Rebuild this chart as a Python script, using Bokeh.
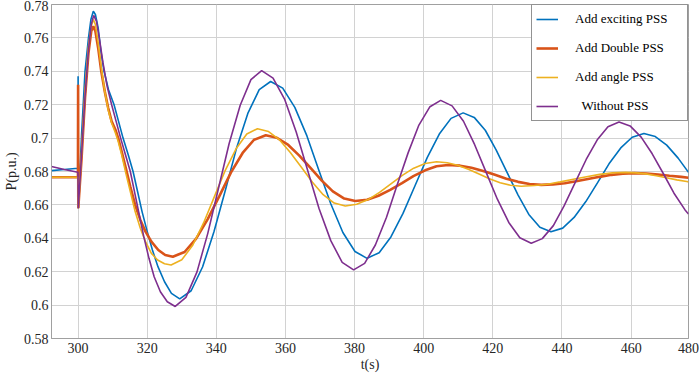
from bokeh.plotting import figure
from bokeh.models import Range1d, FixedTicker, Legend, LegendItem, CustomJSTickFormatter
from bokeh.embed import file_html
from bokeh.resources import INLINE

# ---- data (time s, power p.u.) ----
X_START, X_END = 292.3, 476.6
X_TICKS = [300, 320, 340, 360, 380, 400, 420, 440, 460, 480]
X_TICK_LABELS = ["300", "320", "340", "360", "380", "400", "420", "440", "460", "480"]
Y_TICKS = [0.58, 0.6, 0.62, 0.64, 0.66, 0.68, 0.7, 0.72, 0.74, 0.76, 0.78]
Y_TICK_LABELS = ["0.58", "0.6", "0.62", "0.64", "0.66", "0.68", "0.7", "0.72", "0.74", "0.76", "0.78"]

SERIES_NAMES = ["Add exciting PSS", "Add Double PSS", "Add angle PSS", "\u00a0\u00a0Without PSS"]

EXCITING = [
    (292.3, 0.6805), (296.0, 0.6812), (299.95, 0.6819), (300.0, 0.737), (300.05, 0.658),
    (301.0, 0.702), (302.0, 0.740), (303.0, 0.760), (303.7, 0.771), (304.4, 0.776),
    (305.0, 0.774), (305.8, 0.766), (306.6, 0.752), (307.5, 0.740), (308.8, 0.729),
    (310.4, 0.720), (311.7, 0.710), (313.0, 0.700), (314.5, 0.690), (315.9, 0.680),
    (317.2, 0.668), (318.5, 0.656), (320.0, 0.644), (321.5, 0.633), (323.1, 0.623),
    (325.0, 0.614), (327.0, 0.607), (329.4, 0.6037), (332.7, 0.6086), (336.0, 0.6228),
    (339.3, 0.6439), (342.6, 0.6688), (345.8, 0.6937), (349.1, 0.7148), (352.4, 0.7290),
    (355.7, 0.7339), (359.2, 0.7299), (362.7, 0.7184), (366.2, 0.7013), (369.6, 0.6810),
    (373.1, 0.6607), (376.6, 0.6435), (380.1, 0.6321), (383.6, 0.6280), (387.1, 0.6314),
    (390.5, 0.6408), (394.0, 0.6549), (397.5, 0.6716), (401.0, 0.6883), (404.5, 0.7024),
    (407.9, 0.7118), (411.4, 0.7151), (414.6, 0.7124), (417.8, 0.7047), (420.9, 0.6931),
    (424.1, 0.6795), (427.3, 0.6659), (430.4, 0.6543), (433.6, 0.6466), (436.8, 0.6439),
    (440.2, 0.6461), (443.5, 0.6525), (446.9, 0.6620), (450.3, 0.6733), (453.6, 0.6846),
    (457.0, 0.6941), (460.3, 0.7005), (463.7, 0.7027), (467.0, 0.7009), (470.3, 0.6958),
    (473.6, 0.6880), (476.6, 0.6795),
]

DOUBLE = [
    (292.3, 0.6766), (299.95, 0.6766), (300.0, 0.732), (300.05, 0.658), (301.0, 0.688),
    (302.0, 0.724), (303.0, 0.751), (303.8, 0.764), (304.4, 0.767), (305.0, 0.764),
    (305.8, 0.754), (306.7, 0.740), (307.7, 0.728), (308.7, 0.718), (309.7, 0.710),
    (310.8, 0.705), (311.6, 0.700), (312.6, 0.692), (313.8, 0.682), (315.1, 0.671),
    (316.5, 0.660), (318.0, 0.651), (319.5, 0.644), (321.2, 0.638), (323.2, 0.633),
    (325.2, 0.630), (327.4, 0.629), (330.8, 0.6318), (334.1, 0.6397), (337.5, 0.6515),
    (340.9, 0.6654), (344.2, 0.6793), (347.6, 0.6911), (350.9, 0.6990), (354.3, 0.7017),
    (357.5, 0.7002), (360.8, 0.6959), (364.0, 0.6895), (367.3, 0.6820), (370.5, 0.6745),
    (373.7, 0.6681), (377.0, 0.6638), (380.2, 0.6623), (383.6, 0.6631), (386.9, 0.6655),
    (390.3, 0.6690), (393.7, 0.6731), (397.0, 0.6772), (400.4, 0.6807), (403.7, 0.6831),
    (407.1, 0.6839), (410.5, 0.6835), (413.8, 0.6822), (417.2, 0.6803), (420.6, 0.6780),
    (423.9, 0.6757), (427.3, 0.6738), (430.6, 0.6725), (434.0, 0.6720), (437.4, 0.6723),
    (440.8, 0.6730), (444.1, 0.6742), (447.5, 0.6755), (450.9, 0.6768), (454.3, 0.6780),
    (457.6, 0.6787), (461.0, 0.6790), (464.4, 0.6788), (467.8, 0.6782), (471.1, 0.6775),
    (474.5, 0.6768), (476.6, 0.6763),
]

ANGLE = [
    (292.3, 0.6766), (299.95, 0.6766), (300.05, 0.658), (301.0, 0.690), (302.0, 0.727),
    (303.0, 0.755), (303.8, 0.767), (304.4, 0.771), (305.0, 0.768), (305.8, 0.757),
    (306.7, 0.742), (307.7, 0.728), (308.7, 0.717), (309.7, 0.709), (310.8, 0.703),
    (311.6, 0.698), (312.6, 0.690), (313.8, 0.679), (315.1, 0.668), (316.5, 0.656),
    (318.0, 0.646), (319.5, 0.638), (321.2, 0.631), (323.0, 0.627), (325.0, 0.6248),
    (326.9, 0.624), (330.0, 0.6271), (333.2, 0.6360), (336.3, 0.6492), (339.4, 0.6648),
    (342.5, 0.6804), (345.7, 0.6936), (348.8, 0.7025), (351.9, 0.7056), (355.1, 0.7039),
    (358.3, 0.6989), (361.4, 0.6914), (364.6, 0.6825), (367.8, 0.6736), (370.9, 0.6661),
    (374.1, 0.6611), (377.3, 0.6593), (380.6, 0.6604), (383.9, 0.6632), (387.2, 0.6675),
    (390.5, 0.6726), (393.8, 0.6777), (397.1, 0.6820), (400.4, 0.6848), (403.7, 0.6858),
    (406.8, 0.6852), (409.8, 0.6837), (412.9, 0.6813), (416.0, 0.6785), (419.0, 0.6757),
    (422.1, 0.6733), (425.1, 0.6718), (428.2, 0.6712), (432.0, 0.6716), (435.8, 0.6724),
    (439.5, 0.6738), (443.3, 0.6754), (447.1, 0.6769), (450.9, 0.6783), (454.6, 0.6792),
    (458.4, 0.6795), (461.4, 0.6792), (464.3, 0.6786), (467.3, 0.6775), (470.2, 0.6763),
    (473.2, 0.6750), (476.1, 0.6740), (476.6, 0.6738),
]

WITHOUT = [
    (292.3, 0.683), (296.0, 0.6812), (299.95, 0.6795), (300.05, 0.658), (301.0, 0.690),
    (302.0, 0.725), (303.0, 0.753), (303.8, 0.768), (304.5, 0.7735), (305.3, 0.770),
    (306.2, 0.759), (307.2, 0.745), (308.4, 0.731), (309.7, 0.720), (311.0, 0.710),
    (312.3, 0.700), (313.7, 0.690), (315.1, 0.680), (316.4, 0.667), (317.7, 0.654),
    (319.0, 0.641), (320.5, 0.628), (322.0, 0.617), (323.8, 0.608), (325.8, 0.602),
    (328.1, 0.5992), (331.2, 0.6046), (334.4, 0.6199), (337.5, 0.6428), (340.6, 0.6698),
    (343.7, 0.6968), (346.9, 0.7197), (350.0, 0.7350), (353.1, 0.7404), (356.4, 0.7359),
    (359.8, 0.7230), (363.1, 0.7036), (366.4, 0.6808), (369.7, 0.6579), (373.1, 0.6386),
    (376.4, 0.6256), (379.7, 0.6211), (382.9, 0.6250), (386.0, 0.6360), (389.2, 0.6525),
    (392.3, 0.6719), (395.5, 0.6913), (398.6, 0.7078), (401.8, 0.7188), (404.9, 0.7226),
    (408.2, 0.7193), (411.5, 0.7101), (414.7, 0.6962), (418.0, 0.6798), (421.3, 0.6634),
    (424.6, 0.6495), (427.8, 0.6403), (431.1, 0.6370), (434.3, 0.6398), (437.5, 0.6476),
    (440.6, 0.6594), (443.8, 0.6733), (447.0, 0.6872), (450.2, 0.6990), (453.3, 0.7068),
    (456.5, 0.7096), (459.7, 0.7073), (462.9, 0.7006), (466.1, 0.6906), (469.3, 0.6788),
    (472.4, 0.6670), (475.6, 0.6570), (476.6, 0.6545),
]

SERIES = [EXCITING, DOUBLE, ANGLE, WITHOUT]
COLORS = ["#0072BD", "#D95319", "#EDB120", "#7E2F8E"]
WIDTHS = [1.6, 2.6, 1.6, 1.6]

FONT = "Liberation Serif"

p = figure(
    width=699, height=374,
    output_backend="svg", toolbar_location=None,
    x_range=Range1d(X_START, X_END), y_range=Range1d(Y_TICKS[0], Y_TICKS[-1]),
    min_border_top=4, min_border_right=11, min_border_left=0, min_border_bottom=0,
    background_fill_color="white", border_fill_color="white",
)
p.outline_line_color = "#a0a0a0"
p.outline_line_width = 1

LOOKUP = """
    let best = 0, d = Infinity;
    for (let i = 0; i < pos.length; i++) {
        const e = Math.abs(pos[i] - tick);
        if (e < d) { d = e; best = i; }
    }
    return labels[best];
"""

x_positions = [min(t, X_END) for t in X_TICKS]
p.xaxis.ticker = FixedTicker(ticks=x_positions)
p.xaxis.formatter = CustomJSTickFormatter(args=dict(pos=x_positions, labels=X_TICK_LABELS), code=LOOKUP)
p.yaxis.ticker = FixedTicker(ticks=Y_TICKS)
p.yaxis.formatter = CustomJSTickFormatter(args=dict(pos=Y_TICKS, labels=Y_TICK_LABELS), code=LOOKUP)

for ax in (p.xaxis[0], p.yaxis[0]):
    ax.axis_line_color = "#a0a0a0"
    ax.major_tick_line_color = None
    ax.minor_tick_line_color = None
    ax.major_tick_out = 0
    ax.major_tick_in = 0
    ax.major_label_text_font = FONT
    ax.major_label_text_font_size = "14px"
    ax.major_label_text_color = "#262626"
    ax.axis_label_text_font = FONT
    ax.axis_label_text_font_size = "14px"
    ax.axis_label_text_font_style = "normal"
    ax.axis_label_text_color = "#262626"

p.xaxis.axis_label = "t(s)"
p.yaxis.axis_label = "P(p.u.)"
p.xaxis.major_label_standoff = 4
p.xaxis.axis_label_standoff = 1
p.yaxis.major_label_standoff = 3
p.yaxis.axis_label_standoff = 2

p.xgrid.grid_line_color = "#d2d2d2"
p.ygrid.grid_line_color = "#d2d2d2"
p.xgrid.grid_line_width = 1
p.ygrid.grid_line_width = 1

items = []
for name, data, color, w in zip(SERIES_NAMES, SERIES, COLORS, WIDTHS):
    ts = [d[0] for d in data]
    vs = [d[1] for d in data]
    r = p.line(ts, vs, line_color=color, line_width=w)
    items.append(LegendItem(label=name, renderers=[r]))

legend = Legend(items=items, location="top_right")
legend.margin = 0
legend.padding = 4
legend.spacing = 9
legend.glyph_width = 22
legend.glyph_height = 20
legend.label_height = 20
legend.label_width = 108
legend.label_standoff = 17
legend.label_text_font = FONT
legend.label_text_font_size = "13px"
legend.label_text_color = "#000000"
legend.border_line_color = "#262626"
legend.border_line_width = 1
legend.background_fill_color = "white"
legend.background_fill_alpha = 1.0
p.add_layout(legend)

open("out.html", "w").write(file_html(p, INLINE))
